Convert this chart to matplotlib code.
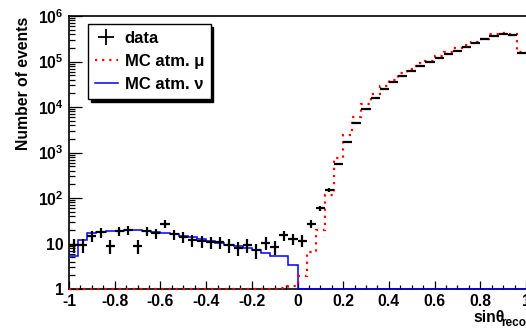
import numpy as np
import matplotlib
matplotlib.use("Agg")
import matplotlib.pyplot as plt
from matplotlib.lines import Line2D
from matplotlib.ticker import MultipleLocator, LogLocator, FixedFormatter, FixedLocator


plt.rcParams["font.family"] = ["Liberation Sans", "DejaVu Sans"]
plt.rcParams["font.weight"] = "bold"
plt.rcParams["mathtext.fontset"] = "custom"
plt.rcParams["mathtext.rm"] = "Liberation Sans:bold"
plt.rcParams["mathtext.bf"] = "Liberation Sans:bold"
plt.rcParams["mathtext.it"] = "Liberation Sans:bold"

# 50 bins of sin(theta_reco) from -1 to 1
bin_lo = -1.0
bin_hi = 1.0
n_bins = 50

data_counts = [
    9.3, 9.3, 14.6, 17.6, 9.0, 18.8, 20.0, 9.0, 18.8, 16.7,
    27.0, 15.9, 14.0, 11.9, 11.5, 10.8, 10.8, 9.3, 8.1, 9.3,
    7.2, 10.5, 8.5, 15.0, 12.7, 11.6, 27.0, 60.0, 150.0, 550.0,
    1730.0, 4380.0, 9040.0, 15500.0, 24500.0, 34900.0, 48000.0, 61800.0, 78500.0, 96000.0,
    117500.0, 146000.0, 173000.0, 211000.0, 259000.0, 307000.0, 363000.0, 408000.0, 382000.0, 151000.0,
]

mc_mu = [
    1.0, 1.0, 1.0, 1.0, 1.0, 1.0, 1.0, 1.0, 1.0, 1.0,
    1.0, 1.0, 1.0, 1.0, 1.0, 1.0, 1.0, 1.0, 1.0, 1.0,
    1.0, 1.0, 1.0, 1.05, 1.15, 1.9, 6.6, 20.0, 116.0, 746.0,
    2425.0, 5940.0, 11800.0, 19300.0, 28900.0, 39200.0, 55000.0, 68400.0, 91300.0, 104000.0,
    132000.0, 159000.0, 195000.0, 230000.0, 272000.0, 317000.0, 396000.0, 430000.0, 402000.0, 159000.0,
]

mc_nu = [
    5.3, 12.0, 17.3, 18.2, 18.8, 19.3, 19.8, 19.8, 19.0, 18.0,
    16.8, 15.8, 14.8, 13.8, 12.6, 11.4, 10.4, 9.4, 8.6, 7.9,
    7.2, 6.1, 5.3, 5.3, 3.4, 1.0, 1.0, 1.0, 1.0, 1.0,
    1.0, 1.0, 1.0, 1.0, 1.0, 1.0, 1.0, 1.0, 1.0, 1.0,
    1.0, 1.0, 1.0, 1.0, 1.0, 1.0, 1.0, 1.0, 1.0, 1.0,
]

x_ticks = [-1, -0.8, -0.6, -0.4, -0.2, 0, 0.2, 0.4, 0.6, 0.8, 1]
x_tick_labels = ["-1", "-0.8", "-0.6", "-0.4", "-0.2", "0", "0.2", "0.4", "0.6", "0.8", "1"]
y_ticks = [1, 10, 1e2, 1e3, 1e4, 1e5, 1e6]
y_tick_labels = ["1", "10", "$10^{2}$", "$10^{3}$", "$10^{4}$", "$10^{5}$", "$10^{6}$"]

W, H = 526, 329
fig = plt.figure(figsize=(W / 100, H / 100), dpi=100)
ax = fig.add_axes([69 / W, 1 - 289 / H, 457 / W, 273 / H])

edges = np.linspace(bin_lo, bin_hi, n_bins + 1)
centers = 0.5 * (edges[:-1] + edges[1:])
half_width = 0.5 * (bin_hi - bin_lo) / n_bins
data = np.array(data_counts)

ax.stairs(mc_nu, edges, baseline=None, color="#0000ff", lw=1.1,
          clip_on=False, zorder=3)
ax.stairs(mc_mu, edges, baseline=None, color="#ff0000", lw=1.6,
          linestyle=(0, (1, 2.2)), clip_on=False, zorder=4)
ax.errorbar(centers, data, xerr=half_width, yerr=np.sqrt(data),
            fmt="none", ecolor="black", elinewidth=1.6, capsize=0, zorder=5)

ax.set_yscale("log")
ax.set_xlim(bin_lo, bin_hi)
ax.set_ylim(1, 1e6)

ax.xaxis.set_major_locator(FixedLocator(x_ticks))
ax.xaxis.set_major_formatter(FixedFormatter(x_tick_labels))
ax.xaxis.set_minor_locator(MultipleLocator(0.05))
ax.yaxis.set_major_locator(FixedLocator(y_ticks))
ax.yaxis.set_major_formatter(FixedFormatter(y_tick_labels))
ax.yaxis.set_minor_locator(LogLocator(base=10, subs=np.arange(2, 10)))

ax.tick_params(axis="both", which="both", direction="in", top=False, right=False,
               labelsize=11.3, colors="black", width=0.9)
ax.tick_params(axis="x", which="major", length=6, pad=3.5)
ax.tick_params(axis="x", which="minor", length=3)
ax.tick_params(axis="y", which="major", length=9, pad=4)
ax.tick_params(axis="y", which="minor", length=4.5)

for side in ["left", "bottom", "top"]:
    ax.spines[side].set_linewidth(1.2)
ax.spines["right"].set_visible(False)

fig.text(24 / W, 1 - 17 / H, "Number of events", rotation=90,
         ha="center", va="top", fontsize=11.3, fontweight="bold")
fig.text(473 / W, 1 - 318 / H, "sin\u03b8", ha="left", va="center",
         fontsize=11.3, fontweight="bold")
fig.text(501 / W, 1 - 323 / H, "reco", ha="left", va="center",
         fontsize=8.5, fontweight="bold")

handles = [
    Line2D([], [], color="black", marker="+", markersize=12, mew=1.3, linestyle="none"),
    Line2D([], [], color="#ff0000", lw=1.6, linestyle=(0, (1, 2.2))),
    Line2D([], [], color="#0000ff", lw=1.1),
]
labels = ["data", "MC atm. \u03bc", "MC atm. \u03bd"]
leg = fig.legend(handles, labels, loc="upper left",
                 bbox_to_anchor=(88 / W, 1 - 24 / H),
                 frameon=True, fancybox=False, edgecolor="black",
                 framealpha=1, borderpad=0.4, labelspacing=0.5,
                 handlelength=1.4, handletextpad=0.4, borderaxespad=0,
                 prop={"size": 12, "weight": "bold"},
                 shadow={"color": "black", "alpha": 1})
leg.get_frame().set_linewidth(1.0)

fig.savefig("out.png", dpi=100)
